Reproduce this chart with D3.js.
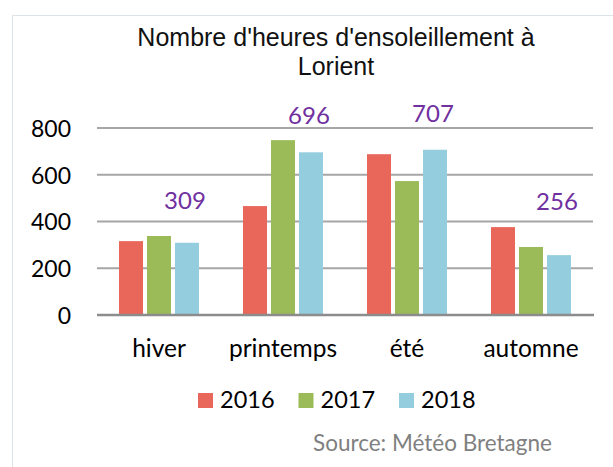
<!DOCTYPE html>
<html>
<head>
<meta charset="utf-8">
<script src="https://cdn.jsdelivr.net/npm/d3@7"></script>
<style>
  body { margin: 0; background: #fff; }
  svg text { font-family: Lato, "Open Sans", sans-serif; }
</style>
</head>
<body>
<div id="chart"></div>
<script>
// data
var seasons = ['hiver', 'printemps', 'été', 'automne'];
var years = ['2016', '2017', '2018'];
var hours2016 = [316, 466, 688, 376];
var hours2017 = [338, 748, 573, 291];
var hours2018 = [309, 696, 707, 256];
var yTicks = [0, 200, 400, 600, 800];

var colors = { '2016': '#e8675a', '2017': '#9bbb59', '2018': '#94cddd' };
var labelLift = [34, 28, 28, 45];

var width = 613, height = 467;

var svg = d3.select('#chart').append('svg')
	.attr('width', width).attr('height', height);

// light frame around the chart
svg.append('path')
	.attr('d', 'M12.5,' + height + 'V15.5H' + width)
	.attr('fill', 'none')
	.attr('stroke', '#dce4ea')
	.attr('stroke-width', 1);

var table = seasons.map(function(s, i) {
	return { season: s, '2016': hours2016[i], '2017': hours2017[i], '2018': hours2018[i] };
});

var x0 = d3.scaleBand().domain(seasons).range([97, 593]).padding(0);
var groupW = 80;
var x1 = d3.scaleBand().domain(years).range([0, groupW]).paddingInner(1 / 7).paddingOuter(0);
var y = d3.scaleLinear().domain([0, 800]).range([315, 128]);

// grid lines
svg.append('g').selectAll('line')
	.data(yTicks.filter(function(d) { return d > 0; }))
	.enter().append('line')
	.attr('x1', 97).attr('x2', 593)
	.attr('y1', function(d) { return y(d); })
	.attr('y2', function(d) { return y(d); })
	.attr('stroke', '#a6a6a6')
	.attr('stroke-width', 2);

// y axis labels
var yAxis = svg.append('g')
	.attr('transform', 'translate(71,0)')
	.call(d3.axisLeft(y).tickValues(yTicks).tickSize(0).tickPadding(0));
yAxis.select('.domain').remove();
yAxis.selectAll('text')
	.attr('font-family', 'Lato, sans-serif')
	.attr('font-size', 23)
	.attr('fill', '#000')
	.attr('dy', '0.36em');

// bars
var groups = svg.append('g').selectAll('g')
	.data(table)
	.enter().append('g')
	.attr('transform', function(d) { return 'translate(' + (x0(d.season) + (x0.bandwidth() - groupW) / 2) + ',0)'; });

groups.selectAll('rect')
	.data(function(d) { return years.map(function(yr) { return { year: yr, value: d[yr] }; }); })
	.enter().append('rect')
	.attr('x', function(d) { return x1(d.year); })
	.attr('width', x1.bandwidth())
	.attr('y', function(d) { return y(d.value); })
	.attr('height', function(d) { return y(0) - y(d.value); })
	.attr('fill', function(d) { return colors[d.year]; });

// baseline
svg.append('line')
	.attr('x1', 97).attr('x2', 594)
	.attr('y1', y(0)).attr('y2', y(0))
	.attr('stroke', '#8c8c8c')
	.attr('stroke-width', 2.5);

// value labels for 2018
svg.append('g').selectAll('text')
	.data(table)
	.enter().append('text')
	.attr('x', function(d) { return x0(d.season) + (x0.bandwidth() - groupW) / 2 + x1('2018') + x1.bandwidth() / 2 - 2; })
	.attr('y', function(d, i) { return y(d['2018']) - labelLift[i]; })
	.attr('text-anchor', 'middle')
	.attr('font-size', 24)
	.attr('fill', '#7030a0')
	.text(function(d) { return d['2018']; });

// category labels
var xAxis = svg.append('g')
	.attr('transform', 'translate(0,' + 357 + ')')
	.call(d3.axisBottom(x0).tickSize(0).tickPadding(0));
xAxis.select('.domain').remove();
xAxis.selectAll('text')
	.attr('font-family', 'Lato, sans-serif')
	.attr('font-size', 24.5)
	.attr('fill', '#000')
	.attr('dy', '0em');

// title
var title = svg.append('text')
	.attr('x', 336)
	.attr('text-anchor', 'middle')
	.attr('font-size', 25)
	.attr('fill', '#111')
	.style('font-family', '"Liberation Sans", Arial, sans-serif');
title.append('tspan').attr('x', 336).attr('y', 46).text("Nombre d'heures d'ensoleillement à");
title.append('tspan').attr('x', 336).attr('y', 75).text('Lorient');

// legend
var legend = svg.append('g').selectAll('g')
	.data(years)
	.enter().append('g')
	.attr('transform', function(d, i) { return 'translate(' + (198 + i * 100.5) + ',393)'; });
legend.append('rect')
	.attr('width', 15).attr('height', 15)
	.attr('fill', function(d) { return colors[d]; });
legend.append('text')
	.attr('x', 22).attr('y', 15)
	.attr('font-size', 23.5)
	.attr('fill', '#000')
	.text(function(d) { return d; });

// source
svg.append('text')
	.attr('x', 313).attr('y', 451)
	.attr('font-size', 22.5)
	.attr('fill', '#808080')
	.text('Source: Météo Bretagne');
</script>
</body>
</html>
